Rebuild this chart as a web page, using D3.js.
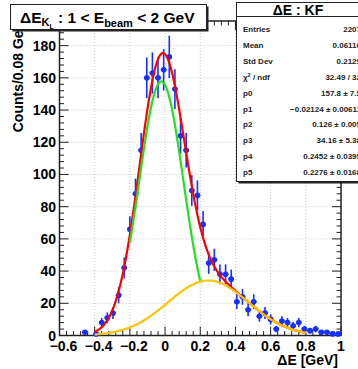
<!DOCTYPE html>
<html>
<head>
<meta charset="utf-8">
<script src="https://cdn.jsdelivr.net/npm/d3@7"></script>
<style>
  body { margin: 0; background: #fff; }
  svg { display: block; }
  text { font-family: "Liberation Sans", Arial, sans-serif; font-weight: bold; }
</style>
</head>
<body>
<div id="chart"></div>
<script>
// histogram: 50 bins from -0.6 to 1.0
const binLow = -0.6, binWidth = 0.032;
const counts = [
  0, 0, 0, 0, 2, 0, 1, 8, 11, 14,
  25, 42, 66, 88, 115, 160, 163, 160, 165, 173,
  153, 124, 115, 90, 87, 69, 45, 47, 38, 38,
  35, 21, 24, 16, 21, 12, 14, 10, 4, 9,
  8, 6, 8, 4, 3, 4, 2, 2, 1, 1
];

const xTicks = [-0.6, -0.4, -0.2, 0, 0.2, 0.4, 0.6, 0.8, 1];
const yTicks = [0, 20, 40, 60, 80, 100, 120, 140, 160, 180];

// fit parameters p0..p5 (gaus + gaus)
const fitPars = [157.8, -0.02124, 0.126, 34.16, 0.2452, 0.2276];

const statLabels = ["Entries", "Mean", "Std Dev", "chi2", "p0", "p1", "p2", "p3", "p4", "p5"];
const statValues = ["2207", "0.06116", "0.2129", "32.49 / 32", "157.8  \u00b1 7.5",
  "\u22120.02124  \u00b1 0.00611", "0.126  \u00b1 0.005", "34.16  \u00b1 5.38",
  "0.2452  \u00b1 0.0395", "0.2276  \u00b1 0.0168"];

const W = 358, H = 369;
const fr = { left: 59.5, right: 341, top: 21, bottom: 335.5 };

const x = d3.scaleLinear().domain([-0.6, 1]).range([fr.left, fr.right]);
const y = d3.scaleLinear().domain([0, 195.3]).range([fr.bottom, fr.top]);

const svg = d3.select("#chart").append("svg")
  .attr("width", W)
  .attr("height", H);

// grid
svg.append("g")
  .selectAll("line")
  .data(xTicks)
  .join("line")
  .attr("x1", d => x(d)).attr("x2", d => x(d))
  .attr("y1", fr.top).attr("y2", fr.bottom)
  .attr("stroke", "#c8c8c8")
  .attr("stroke-dasharray", "1,2");
svg.append("g")
  .selectAll("line")
  .data(yTicks)
  .join("line")
  .attr("x1", fr.left).attr("x2", fr.right)
  .attr("y1", d => y(d)).attr("y2", d => y(d))
  .attr("stroke", "#c8c8c8")
  .attr("stroke-dasharray", "1,2");

// ticks on all four sides, pointing inwards
const xMinor = d3.range(-0.6, 1.0001, 0.04);
const yMinor = d3.range(0, 195, 4);
const tk = svg.append("g").attr("stroke", "#222").attr("stroke-width", 1);
xMinor.forEach((v, i) => {
  const len = i % 5 === 0 ? 9 : 4.5;
  tk.append("line").attr("x1", x(v)).attr("x2", x(v)).attr("y1", fr.bottom).attr("y2", fr.bottom - len);
  tk.append("line").attr("x1", x(v)).attr("x2", x(v)).attr("y1", fr.top).attr("y2", fr.top + len);
});
yMinor.forEach((v, i) => {
  const len = i % 5 === 0 ? 9 : 4.5;
  tk.append("line").attr("x1", fr.left).attr("x2", fr.left + len).attr("y1", y(v)).attr("y2", y(v));
  tk.append("line").attr("x1", fr.right).attr("x2", fr.right - len).attr("y1", y(v)).attr("y2", y(v));
});

// frame
svg.append("rect")
  .attr("x", fr.left).attr("y", fr.top)
  .attr("width", fr.right - fr.left).attr("height", fr.bottom - fr.top)
  .attr("fill", "none")
  .attr("stroke", "#222")
  .attr("stroke-width", 1.5);

// tick labels
const fmt = d3.format("");
svg.append("g")
  .selectAll("text")
  .data(xTicks)
  .join("text")
  .attr("x", d => x(d) + (d < 0 ? 4 : 0))
  .attr("y", 351)
  .attr("text-anchor", "middle")
  .style("font-size", "14px")
  .text(d => fmt(d));
svg.append("g")
  .selectAll("text")
  .data(yTicks)
  .join("text")
  .attr("x", 56)
  .attr("y", d => y(d) + 5)
  .attr("text-anchor", "end")
  .style("font-size", "14px")
  .text(d => d);

// axis titles
svg.append("text")
  .attr("x", 338).attr("y", 365)
  .attr("text-anchor", "end")
  .style("font-size", "14px")
  .text("\u0394E [GeV]");
svg.append("text")
  .attr("transform", "translate(23,21) rotate(-90)")
  .attr("text-anchor", "end")
  .style("font-size", "14px")
  .text("Counts/0.08 GeV");

// data points with errors
const blue = "#1530ff";
const pts = counts.map((c, i) => ({ xc: binLow + binWidth * (i + 0.5), n: c })).filter(d => d.n > 0);
const pg = svg.append("g");
pg.selectAll(".ey")
  .data(pts)
  .join("line")
  .attr("x1", d => x(d.xc)).attr("x2", d => x(d.xc))
  .attr("y1", d => y(d.n + Math.sqrt(d.n))).attr("y2", d => y(Math.max(0, d.n - Math.sqrt(d.n))))
  .attr("stroke", blue).attr("stroke-width", 1.6);
pg.selectAll(".ex")
  .data(pts)
  .join("line")
  .attr("x1", d => x(d.xc - binWidth / 2)).attr("x2", d => x(d.xc + binWidth / 2))
  .attr("y1", d => y(d.n)).attr("y2", d => y(d.n))
  .attr("stroke", blue).attr("stroke-width", 1.6);
pg.selectAll("circle")
  .data(pts)
  .join("circle")
  .attr("cx", d => x(d.xc)).attr("cy", d => y(d.n))
  .attr("r", 2.8)
  .attr("fill", blue);

// fit curves
const [p0, p1, p2, p3, p4, p5] = fitPars;
const sig = v => p0 * Math.exp(-0.5 * ((v - p1) / p2) ** 2);
const bkg = v => p3 * Math.exp(-0.5 * ((v - p4) / p5) ** 2);
const curve = (f, a, b) => d3.range(0, 201).map(i => { const v = a + (b - a) * i / 200; return [x(v), y(f(v))]; });
const line = d3.line().curve(d3.curveLinear);
[
  { f: v => sig(v) + bkg(v), a: -0.4, b: 0.8, color: "#ff0000" },
  { f: sig, a: -0.2, b: 0.2, color: "#22e022" },
  { f: bkg, a: -0.4, b: 0.8, color: "#ffc400" }
].forEach(c => {
  svg.append("path")
    .attr("d", line(curve(c.f, c.a, c.b)))
    .attr("fill", "none")
    .attr("stroke", c.color)
    .attr("stroke-width", 2.2);
});

// title box
svg.append("rect").attr("x", 12.5).attr("y", 6.5).attr("width", 196).attr("height", 25).attr("fill", "#222");
svg.append("rect").attr("x", 10.5).attr("y", 4.5).attr("width", 196).attr("height", 25)
  .attr("fill", "#fff").attr("stroke", "#222").attr("stroke-width", 1);
const tt = svg.append("text").attr("x", 20).attr("y", 23).style("font-size", "15.5px");
tt.append("tspan").text("\u0394E");
tt.append("tspan").attr("dy", 3).style("font-size", "11px").text("K");
tt.append("tspan").attr("dy", 2.5).style("font-size", "7px").text("L");
tt.append("tspan").attr("dy", -5.5).text(" : 1 < E");
tt.append("tspan").attr("dy", 3.5).style("font-size", "11px").text("beam");
tt.append("tspan").attr("dy", -3.5).text(" < 2 GeV");

// stats box
svg.append("rect").attr("x", 238.5).attr("y", 4.5).attr("width", 130).attr("height", 179).attr("fill", "#222");
svg.append("rect").attr("x", 236.5).attr("y", 2.5).attr("width", 130).attr("height", 179)
  .attr("fill", "#fff").attr("stroke", "#222").attr("stroke-width", 1);
svg.append("line").attr("x1", 236.5).attr("x2", 366).attr("y1", 16.5).attr("y2", 16.5)
  .attr("stroke", "#222").attr("stroke-width", 1);
svg.append("text")
  .attr("x", 298).attr("y", 14.5)
  .attr("text-anchor", "middle")
  .style("font-size", "14px")
  .text("\u0394E : KF");
const sg = svg.append("g").style("font-size", "8px").attr("fill", "#222");
statLabels.forEach((lab, i) => {
  const yy = 32 + 15.9 * i;
  const t = sg.append("text").attr("x", 243).attr("y", yy);
  if (lab === "chi2") {
    t.append("tspan").text("\u03c7");
    t.append("tspan").attr("dy", -3).style("font-size", "5.5px").text("2");
    t.append("tspan").attr("dy", 3).text(" / ndf");
  } else {
    t.text(lab);
  }
  sg.append("text").attr("x", 361).attr("y", yy).attr("text-anchor", "end").text(statValues[i]);
});
</script>
</body>
</html>
